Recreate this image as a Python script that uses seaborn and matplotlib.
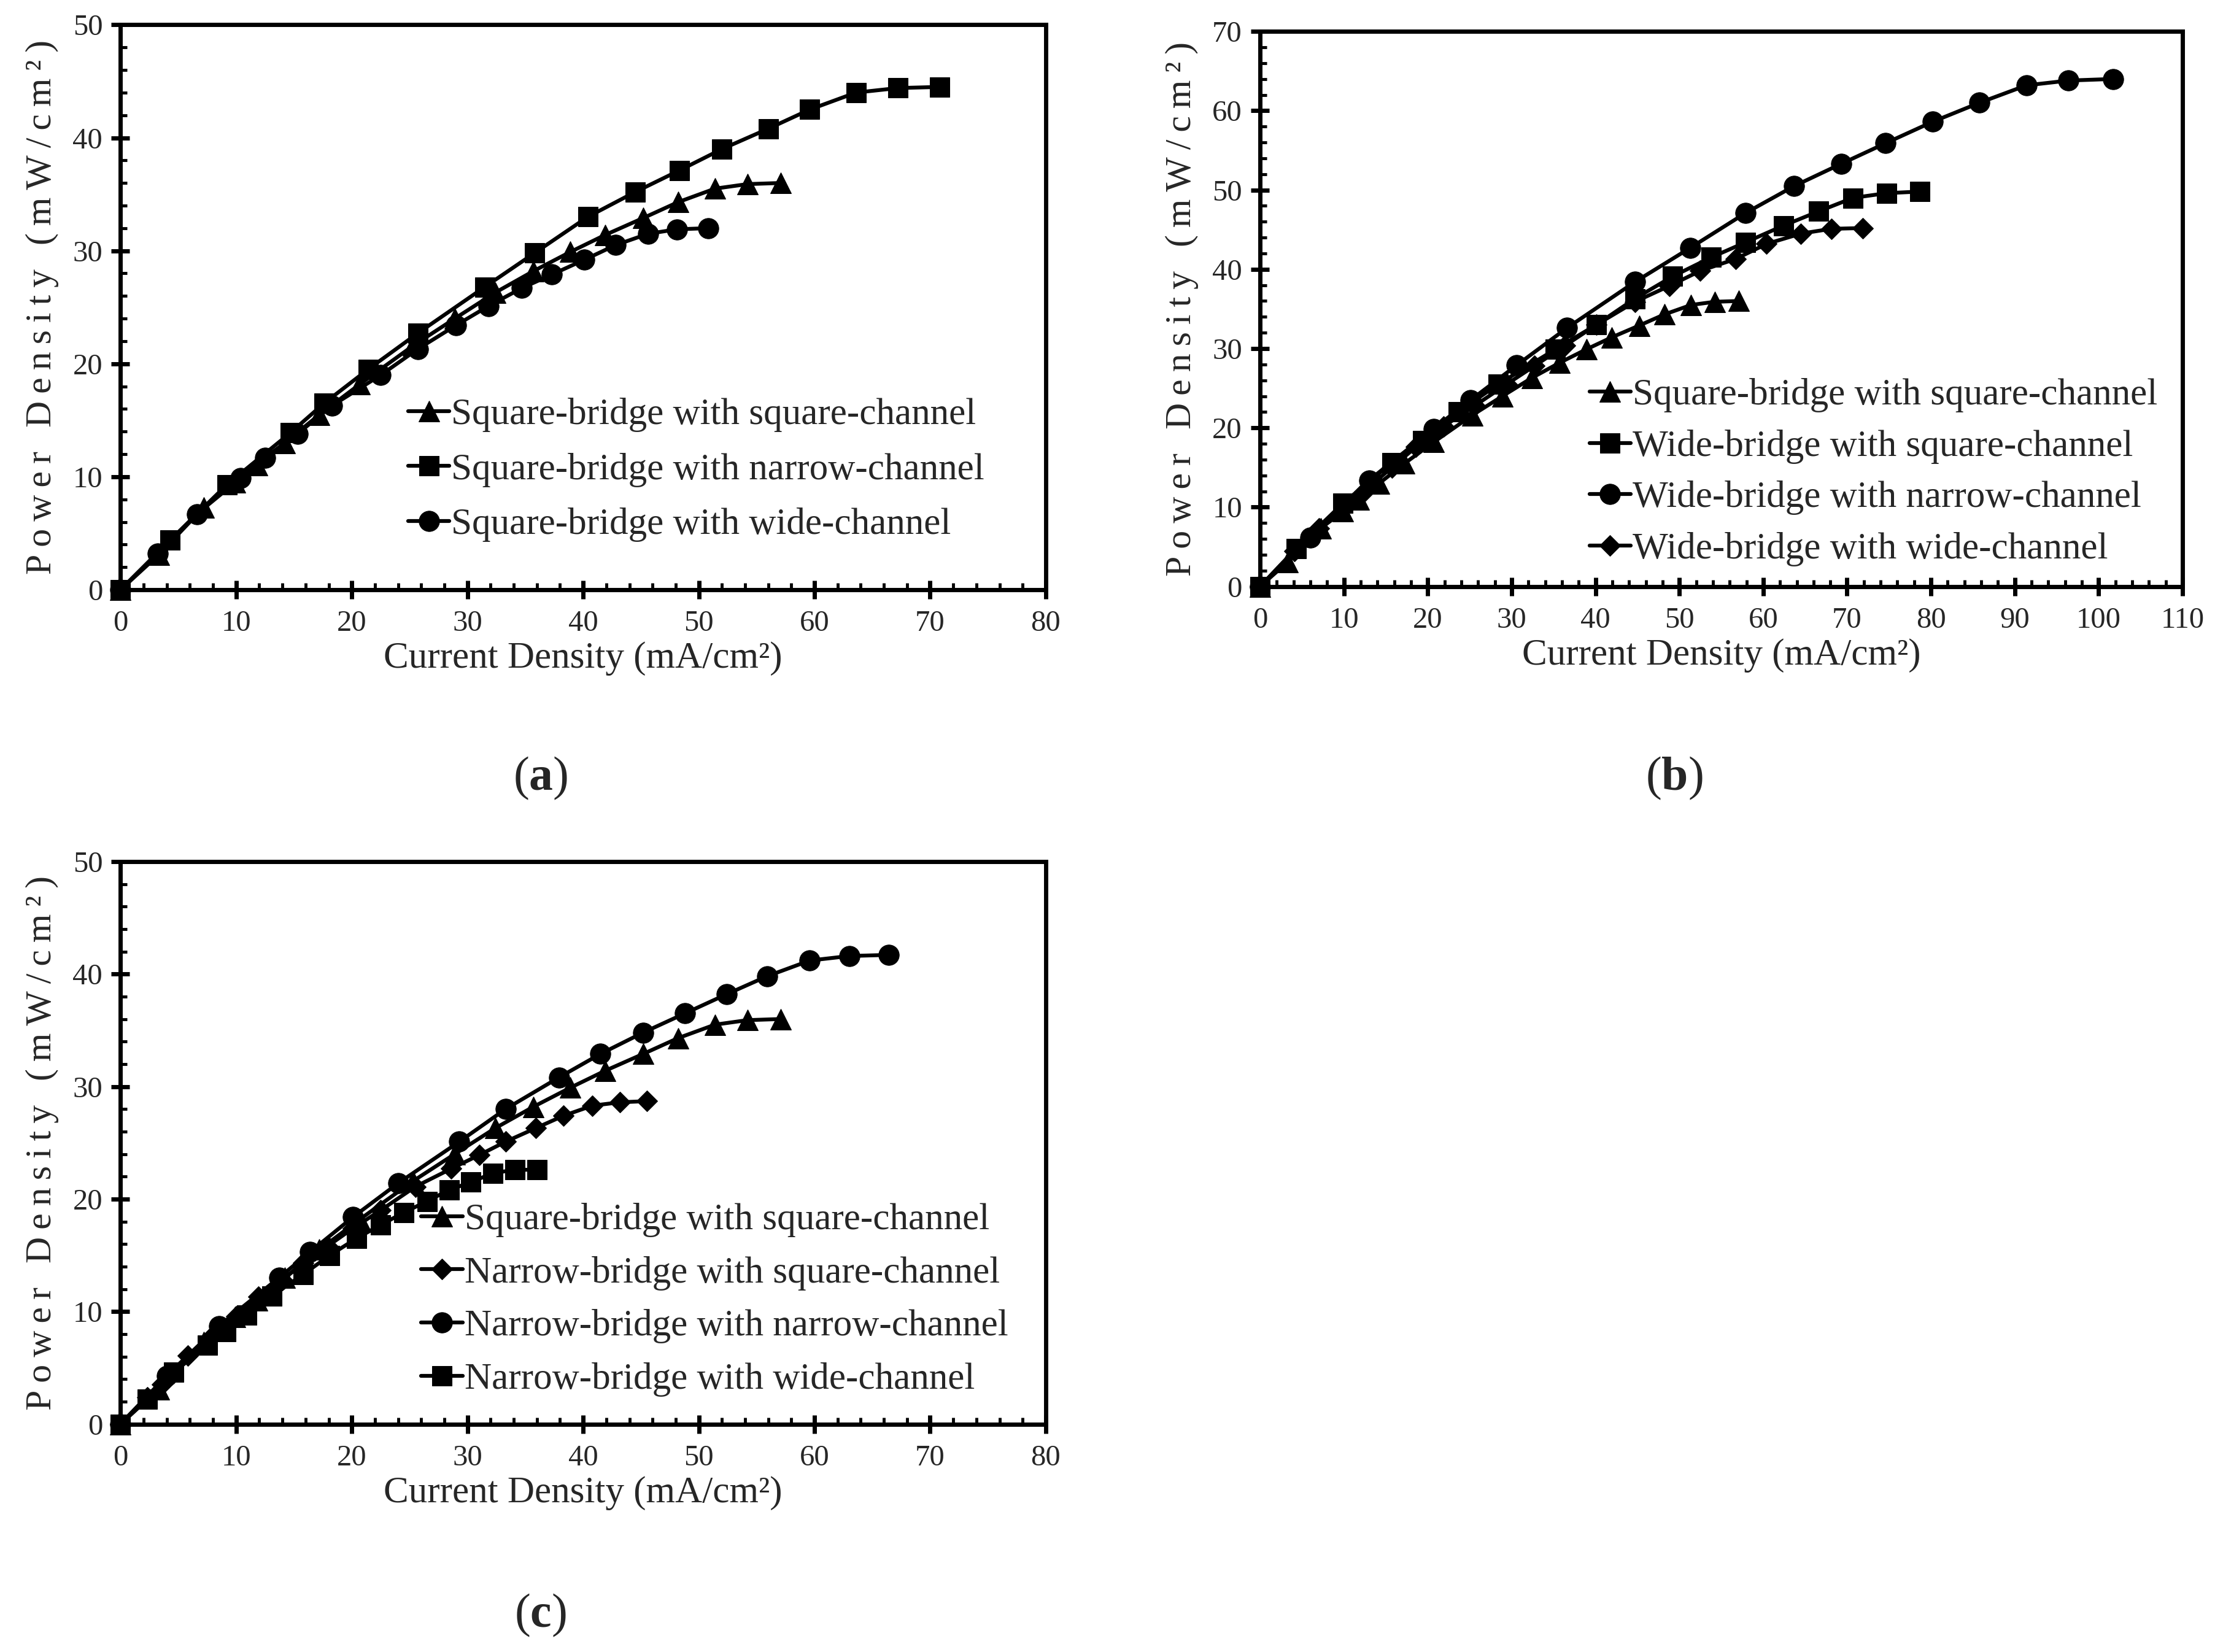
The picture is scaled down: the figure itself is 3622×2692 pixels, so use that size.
import numpy as np
import pandas as pd
import matplotlib
matplotlib.use("Agg")
import matplotlib.pyplot as plt
from matplotlib.ticker import MultipleLocator
import seaborn as sns

# data
# square-bridge with square-channel (same curve in all three panels)
sq_sq_x = [0, 3.3, 7.2, 9.9, 11.8, 14.2, 17.2, 20.7, 25.3, 28.9, 32.4, 35.7, 38.9, 41.9, 45.2, 48.2, 51.4, 54.2, 57.1]
sq_sq_y = [0, 3.1, 7.3, 9.5, 11.0, 13.0, 15.5, 18.2, 21.6, 24.0, 26.3, 28.2, 29.9, 31.4, 32.9, 34.3, 35.5, 35.9, 36.0]

# panel (a)
sq_nar_x = [0, 4.3, 9.2, 14.7, 17.6, 21.4, 25.7, 31.5, 35.8, 40.4, 44.5, 48.3, 52.0, 56.0, 59.6, 63.6, 67.2, 70.8]
sq_nar_y = [0, 4.4, 9.3, 13.9, 16.5, 19.5, 22.7, 26.8, 29.8, 33.0, 35.2, 37.1, 39.0, 40.8, 42.5, 44.0, 44.4, 44.5]
sq_wide_x = [0, 3.2, 6.6, 10.4, 12.5, 15.3, 18.3, 22.5, 25.7, 29.0, 31.8, 34.7, 37.3, 40.1, 42.8, 45.6, 48.1, 50.8]
sq_wide_y = [0, 3.2, 6.7, 9.9, 11.7, 13.8, 16.3, 19.0, 21.3, 23.4, 25.1, 26.7, 27.9, 29.2, 30.5, 31.5, 31.9, 32.0]

# panel (b)
wide_sq_x = [0, 4.3, 9.9, 15.7, 19.4, 23.6, 28.4, 35.2, 40.1, 44.7, 49.2, 53.8, 57.9, 62.4, 66.6, 70.7, 74.7, 78.7]
wide_sq_y = [0, 4.8, 10.5, 15.6, 18.4, 22.0, 25.5, 29.9, 33.0, 36.3, 39.1, 41.5, 43.4, 45.5, 47.3, 49.0, 49.6, 49.8]
wide_nar_x = [0, 6.0, 13.0, 20.7, 25.1, 30.6, 36.6, 44.7, 51.3, 57.9, 63.7, 69.3, 74.6, 80.2, 85.8, 91.4, 96.4, 101.7]
wide_nar_y = [0, 6.2, 13.4, 19.9, 23.5, 27.9, 32.6, 38.4, 42.7, 47.1, 50.5, 53.3, 55.9, 58.6, 61.0, 63.2, 63.8, 64.0]
wide_wide_x = [0, 4.1, 7.0, 10.1, 12.4, 15.7, 18.6, 21.9, 25.6, 29.4, 32.7, 36.4, 40.1, 44.7, 48.8, 52.5, 56.7, 60.4, 64.5, 68.1, 71.9]
wide_wide_y = [0, 4.5, 7.3, 10.2, 12.0, 15.0, 17.6, 20.2, 22.8, 25.5, 27.8, 30.4, 33.0, 35.9, 37.9, 39.8, 41.3, 43.2, 44.5, 45.1, 45.2]

# panel (c)
nar_sq_x = [0, 2.3, 3.6, 5.8, 7.9, 10.0, 11.9, 14.0, 15.8, 17.9, 20.1, 22.5, 25.5, 28.6, 31.0, 33.3, 35.9, 38.3, 40.8, 43.2, 45.5]
nar_sq_y = [0, 2.4, 3.5, 6.1, 7.8, 9.6, 11.3, 12.8, 14.3, 15.8, 17.4, 19.0, 21.1, 22.7, 23.9, 25.1, 26.3, 27.4, 28.3, 28.6, 28.7]
nar_nar_x = [0, 4.0, 8.5, 13.7, 16.4, 20.1, 24.0, 29.3, 33.3, 37.9, 41.5, 45.2, 48.8, 52.4, 55.9, 59.6, 63.0, 66.4]
nar_nar_y = [0, 4.3, 8.7, 13.0, 15.3, 18.4, 21.4, 25.1, 28.0, 30.8, 32.9, 34.8, 36.5, 38.2, 39.8, 41.2, 41.6, 41.7]
nar_wide_x = [0, 2.3, 4.6, 7.5, 9.1, 10.9, 13.1, 15.8, 18.1, 20.4, 22.5, 24.5, 26.5, 28.4, 30.3, 32.2, 34.1, 36.0]
nar_wide_y = [0, 2.2, 4.6, 7.0, 8.2, 9.7, 11.4, 13.3, 15.0, 16.5, 17.7, 18.8, 19.8, 20.8, 21.5, 22.3, 22.6, 22.6]

sns.set_theme(style="ticks")
plt.rcParams["font.family"] = ["Liberation Serif", "DejaVu Serif"]
plt.rcParams["mathtext.fontset"] = "custom"
plt.rcParams["mathtext.rm"] = "Liberation Serif"
plt.rcParams["mathtext.bf"] = "Liberation Serif:bold"

fig = plt.figure(figsize=(36.23, 26.92), dpi=100)
fig.patch.set_facecolor("white")

ylab = "\u2009".join("Power Density (mW/cm²)")


def series(ax, x, y, marker, ms, label):
    sns.lineplot(x=x, y=y, ax=ax, color="black", marker=marker, markersize=ms,
                 markeredgecolor="black", linewidth=4.5, label=label,
                 estimator=None, sort=False)


def style_ax(ax, xmax, ymax, leg_x, leg_y, spacing):
    ax.set_xlim(0, xmax)
    ax.set_ylim(0, ymax)
    ax.xaxis.set_major_locator(MultipleLocator(10))
    ax.yaxis.set_major_locator(MultipleLocator(10))
    ax.xaxis.set_minor_locator(MultipleLocator(2))
    ax.yaxis.set_minor_locator(MultipleLocator(2))
    ax.tick_params(which="major", direction="inout", length=22, width=5,
                   labelsize=35, color="black")
    ax.tick_params(axis="x", which="major", pad=13)
    ax.tick_params(axis="y", which="major", pad=10)
    ax.tick_params(which="minor", direction="in", length=8, width=3.5, color="black")
    for s in ax.spines.values():
        s.set_linewidth(5)
        s.set_color("black")
    ax.set_xlabel("Current Density (mA/cm²)", fontsize=44, labelpad=5)
    ax.set_ylabel(ylab, fontsize=43, labelpad=16)
    for ln in ax.lines:
        ln.set_clip_on(False)
    ax.legend(loc="upper left", bbox_to_anchor=(leg_x, leg_y), frameon=False,
              fontsize=44, handlelength=1.1, handletextpad=0.05,
              borderaxespad=0, borderpad=0, labelspacing=spacing)


# (a)
ax1 = fig.add_axes([0.0542, 0.643, 0.4161, 0.342])
series(ax1, sq_sq_x, sq_sq_y, "^", 24, "Square-bridge with square-channel")
series(ax1, sq_nar_x, sq_nar_y, "s", 23, "Square-bridge with narrow-channel")
series(ax1, sq_wide_x, sq_wide_y, "o", 24, "Square-bridge with wide-channel")
style_ax(ax1, 80, 50, 0.311, 0.34, 0.55)

# (b)
ax2 = fig.add_axes([0.5667, 0.645, 0.4148, 0.336])
series(ax2, sq_sq_x, sq_sq_y, "^", 24, "Square-bridge with square-channel")
series(ax2, wide_sq_x, wide_sq_y, "s", 23, "Wide-bridge with square-channel")
series(ax2, wide_nar_x, wide_nar_y, "o", 24, "Wide-bridge with narrow-channel")
series(ax2, wide_wide_x, wide_wide_y, "D", 17, "Wide-bridge with wide-channel")
style_ax(ax2, 110, 70, 0.357, 0.375, 0.45)

# (c)
ax3 = fig.add_axes([0.0542, 0.138, 0.4161, 0.3405])
series(ax3, sq_sq_x, sq_sq_y, "^", 24, "Square-bridge with square-channel")
series(ax3, nar_sq_x, nar_sq_y, "D", 17, "Narrow-bridge with square-channel")
series(ax3, nar_nar_x, nar_nar_y, "o", 24, "Narrow-bridge with narrow-channel")
series(ax3, nar_wide_x, nar_wide_y, "s", 23, "Narrow-bridge with wide-channel")
style_ax(ax3, 80, 50, 0.325, 0.393, 0.5)

fig.text(0.243, 0.529, r"($\mathbf{a}$)", fontsize=56, ha="center", va="center")
fig.text(0.753, 0.529, r"($\mathbf{b}$)", fontsize=56, ha="center", va="center")
fig.text(0.243, 0.022, r"($\mathbf{c}$)", fontsize=56, ha="center", va="center")

fig.savefig("out.png", dpi=100, facecolor="white")
